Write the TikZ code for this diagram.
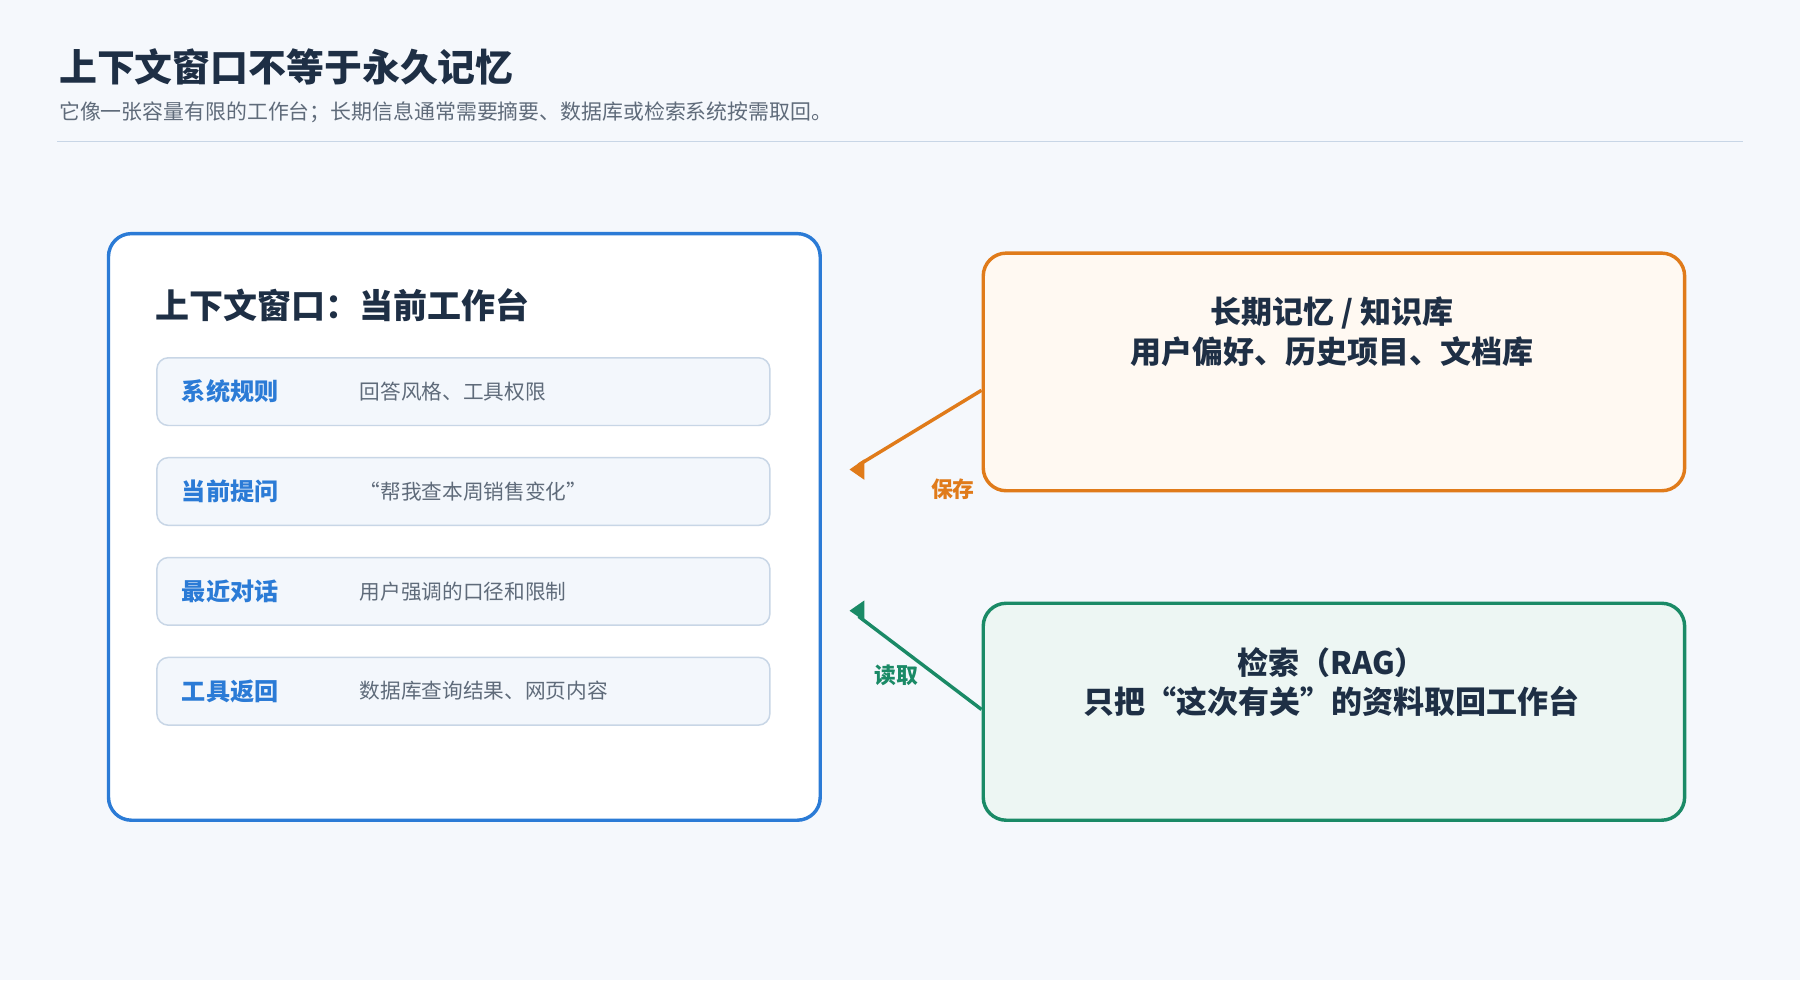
\documentclass[tikz,border=0pt]{standalone}
\usepackage{fontspec}
\setmainfont{Noto Sans CJK SC}
\usetikzlibrary{positioning,arrows.meta}
\definecolor{ink}{HTML}{1E2F45}
\definecolor{sub}{HTML}{5F6B7A}
\definecolor{bluec}{HTML}{2B7BD6}
\definecolor{orangec}{HTML}{E07B1A}
\definecolor{greenc}{HTML}{1A8A66}
\definecolor{rowfill}{HTML}{F3F7FC}
\definecolor{rowline}{HTML}{C8D6E6}
\definecolor{bg}{HTML}{F5F8FC}
\tikzset{
  row/.style={draw=rowline, line width=1.3pt, fill=rowfill, rounded corners=10pt,
    minimum width=534pt, minimum height=59pt, anchor=north west},
  key/.style={text=bluec, font=\bfseries\fontsize{21}{24}\selectfont, anchor=west},
  val/.style={text=sub, font=\fontsize{18}{22}\selectfont, anchor=west},
  store/.style={draw=#1, line width=3pt, rounded corners=20pt, anchor=north west},
  boxtext/.style={align=center, text=ink, font=\bfseries\fontsize{27}{34}\selectfont}
}
\begin{document}
\begin{tikzpicture}[x=1pt,y=-1pt]
  \useasboundingbox[fill=bg] (0,0) rectangle (1568,854);

  \node[anchor=west, text=ink, font=\bfseries\fontsize{33}{36}\selectfont] (title) at (48,58) {上下文窗口不等于永久记忆};
  \node[anchor=west, text=sub, font=\fontsize{18.2}{20}\selectfont] (subtitle) at (48,98) {它像一张容量有限的工作台；长期信息通常需要摘要、数据库或检索系统按需取回。};
  \draw[draw=rowline, line width=1pt] (50,123) -- (1518,123);

  % context window
  \node[store=bluec, fill=white, minimum width=620pt, minimum height=511pt] (win) at (93,202) {};
  \node[anchor=west, text=ink, font=\bfseries\fontsize{29.6}{32}\selectfont] (head) at (132,266) {上下文窗口：当前工作台};

  \node[row] (r1) at (136,311) {};
  \node[row] (r2) at (136,398) {};
  \node[row] (r3) at (136,485) {};
  \node[row] (r4) at (136,572) {};

  \node[key] at (155,341) {系统规则};
  \node[val] at (310,341) {回答风格、工具权限};
  \node[key] at (155,428) {当前提问};
  \node[val] at (310,428) {“帮我查本周销售变化”};
  \node[key] at (155,515) {最近对话};
  \node[val] at (310,515) {用户强调的口径和限制};
  \node[key] at (155,602) {工具返回};
  \node[val] at (310,602) {数据库查询结果、网页内容};

  % memory and retrieval
  \node[store=orangec, fill=orange!5, minimum width=611pt, minimum height=207pt] (mem) at (855,219) {};
  \node[boxtext] at (1160,289) {长期记忆 / 知识库\\用户偏好、历史项目、文档库};

  \node[store=greenc, fill=greenc!8, minimum width=611pt, minimum height=189pt] (rag) at (855,524) {};
  \node[boxtext] at (1160,594) {检索（RAG）\\只把“这次有关”的资料取回工作台};

  \coordinate (memin) at (748,405);
  \coordinate (ragin) at (748,537);
  \draw[orangec, line width=3pt] (855,340) -- (memin);
  \draw[greenc, line width=3pt] (855,618) -- (ragin);
  \fill[orangec] (740,409) -- (753,400) -- (753,418) -- cycle;
  \fill[greenc] (740,532) -- (753,523) -- (753,541) -- cycle;
  \node[text=orangec, font=\bfseries\fontsize{19}{22}\selectfont] at (830,426) {保存};
  \node[text=greenc, font=\bfseries\fontsize{19}{22}\selectfont] at (781,588) {读取};
\end{tikzpicture}
\end{document}
